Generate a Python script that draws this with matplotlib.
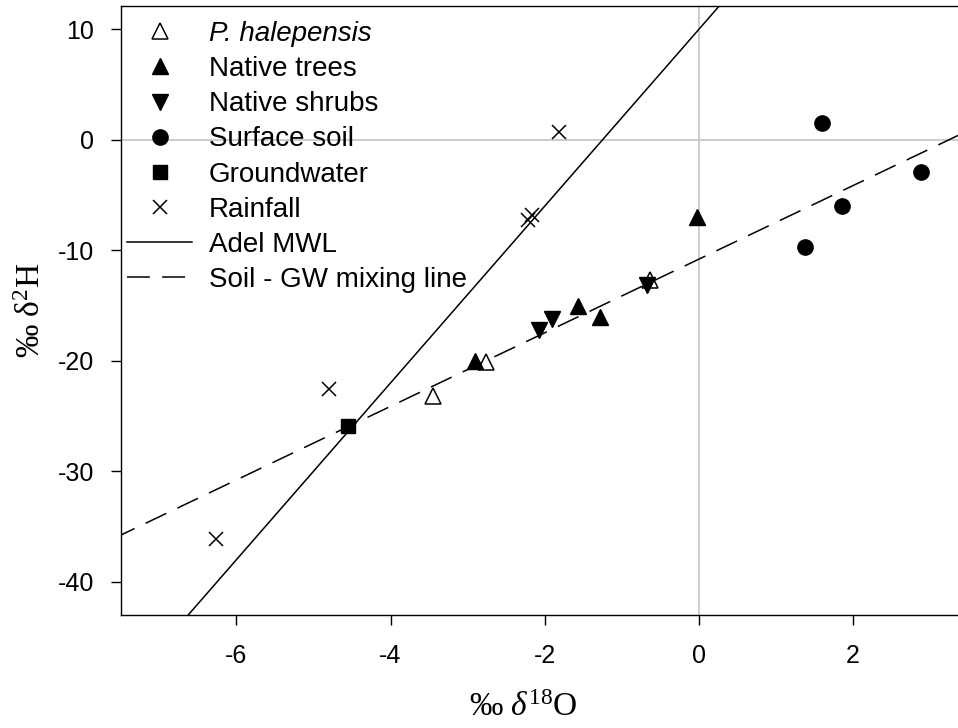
import numpy as np
import matplotlib
matplotlib.use("Agg")
import matplotlib.pyplot as plt

plt.rcParams['font.family'] = ['Liberation Sans', 'DejaVu Sans']
plt.rcParams['mathtext.fontset'] = 'custom'
plt.rcParams['mathtext.rm'] = 'Liberation Serif'
plt.rcParams['mathtext.it'] = 'Liberation Serif:italic'
plt.rcParams['axes.unicode_minus'] = False

# isotope data (d18O, d2H), per mil
pinus_x = [-3.45, -2.76, -0.64]
pinus_y = [-23.2, -20.1, -12.7]
trees_x = [-2.90, -1.57, -1.28, -0.02]
trees_y = [-20.05, -15.0, -16.0, -7.0]
shrubs_x = [-2.07, -1.90, -0.67]
shrubs_y = [-17.2, -16.2, -13.1]
soil_x = [1.37, 1.60, 1.85, 2.88]
soil_y = [-9.7, 1.5, -5.95, -2.95]
gw_x = [-4.55]
gw_y = [-25.9]
rain_x = [-6.26, -4.80, -2.22, -2.16, -1.81]
rain_y = [-36.1, -22.55, -7.3, -6.8, 0.74]

# Adel meteoric water line and soil-groundwater mixing line
mwl_slope, mwl_icpt = 8.0, 10.0
mix_slope, mix_icpt = 3.33, -10.8

fig = plt.figure(figsize=(9.58, 7.28), dpi=100)
ax = fig.add_axes([0.126, 0.1552, 0.876, 0.8365])

xlim = (-7.5, 3.385)
ylim = (-43, 12.1)
ax.set_xlim(xlim)
ax.set_ylim(ylim)

ax.axhline(0, color='#c8c8c8', lw=1.3, zorder=0)
ax.axvline(0, color='#c8c8c8', lw=1.3, zorder=0)

xx = np.array([-8.0, 4.0])
l1, = ax.plot(xx, mwl_slope * xx + mwl_icpt, color='black', lw=1.1, zorder=2,
              label='Adel MWL')
l2, = ax.plot(xx, mix_slope * xx + mix_icpt, color='black', lw=1.1, ls=(0, (15, 8)),
              zorder=2, label='Soil - GW mixing line')

ms = 11
h1, = ax.plot(pinus_x, pinus_y, '^', ms=ms, mfc='white', mec='black', mew=1.1,
              ls='none', zorder=3, label='P. halepensis')
h2, = ax.plot(trees_x, trees_y, '^', ms=ms, color='black', ls='none', zorder=3,
              label='Native trees')
h3, = ax.plot(shrubs_x, shrubs_y, 'v', ms=ms, color='black', ls='none', zorder=3,
              label='Native shrubs')
h4, = ax.plot(soil_x, soil_y, 'o', ms=11, color='black', ls='none', zorder=3,
              label='Surface soil')
h5, = ax.plot(gw_x, gw_y, 's', ms=10, color='black', ls='none', zorder=3,
              label='Groundwater')
h6, = ax.plot(rain_x, rain_y, 'x', ms=10.5, color='black', mew=1.1, ls='none',
              zorder=3, label='Rainfall')

handles = [h1, h2, h3, h4, h5, h6, l1, l2]
leg = ax.legend(handles, [h.get_label() for h in handles],
                loc='upper left', bbox_to_anchor=(127 / 958, 1 - 21 / 728),
                bbox_transform=fig.transFigure, frameon=False, fontsize=20,
                borderpad=0, labelspacing=0.33, handlelength=2.35,
                handletextpad=0.6, borderaxespad=0)
leg.get_texts()[0].set_fontstyle('italic')

ax.set_xticks([-6, -4, -2, 0, 2])
ax.set_yticks([-40, -30, -20, -10, 0, 10])
ax.tick_params(direction='out', length=7, width=1, labelsize=18)
ax.tick_params(axis='x', pad=14)
ax.tick_params(axis='y', pad=12)
for s in ['left', 'bottom', 'top']:
    ax.spines[s].set_linewidth(1.0)
ax.spines['right'].set_visible(False)

ax.set_xlabel('‰ $\\delta^{18}$O', fontsize=24, family='Liberation Serif')
ax.set_ylabel('‰ $\\mathrm{\\delta}^{2}$H', fontsize=24, family='Liberation Serif')
ax.xaxis.set_label_coords(0.48, -0.127)
ax.yaxis.set_label_coords(-0.088, 0.5)

fig.savefig('out.png', dpi=100)
